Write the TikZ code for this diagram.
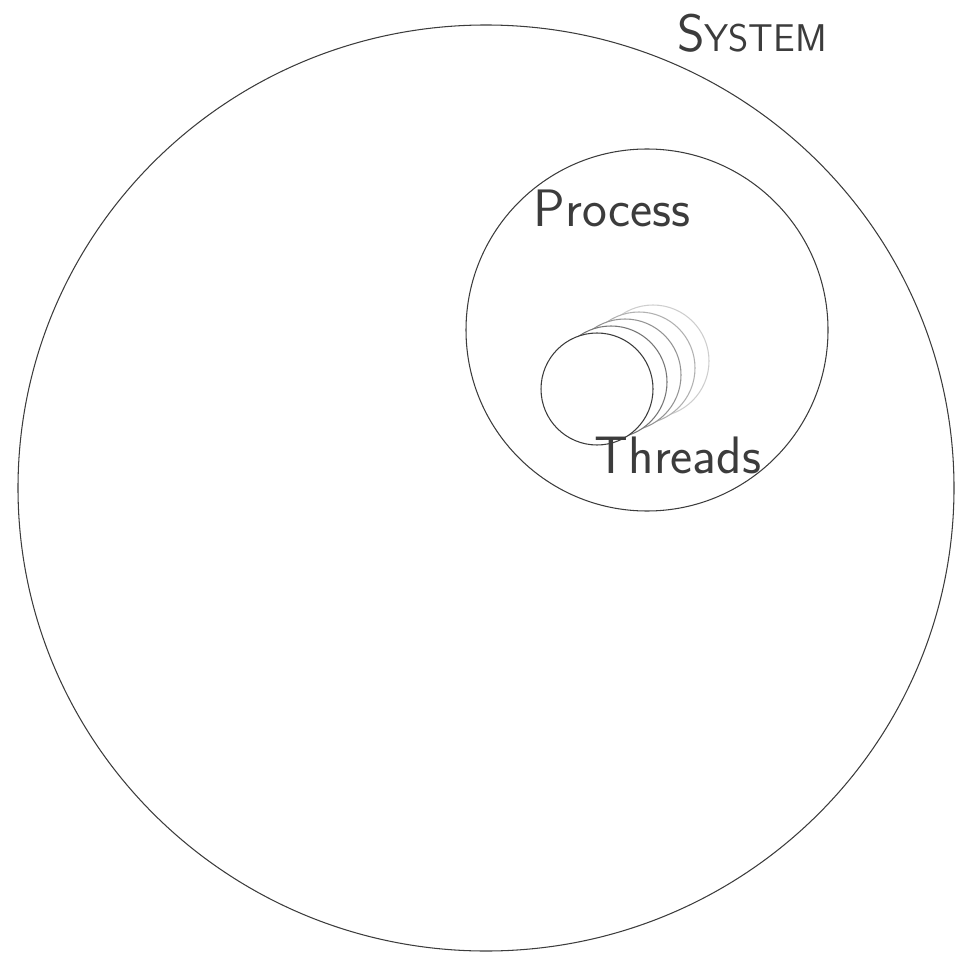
\documentclass[tikz,border=0pt]{standalone}
\usepackage{tikz}
\usetikzlibrary{positioning}
\definecolor{PencilGrey}{RGB}{60, 60, 60}

\begin{document}
\begin{tikzpicture}[x=0.02cm, y=-0.02cm,
		ring/.style={draw=PencilGrey, line width=0.6pt},
		lab/.style={text=PencilGrey, font=\sffamily\fontsize{30}{32}\selectfont, inner sep=0pt}]
	\useasboundingbox (0,0) rectangle (957,962);
	% system
	\draw[ring] (486,488) ellipse [x radius=468, y radius=463];
	\node[lab] (sys) at (752,33) {S{\fontsize{22}{24}\selectfont YSTEM}};
	% process
	\draw[ring] (647,330) circle [radius=181];
	\node[lab] (proc) at (612,208) {Process};
	% threads, back ones fainter
	\foreach \k/\shade in {4/25, 3/40, 2/55, 1/70}{
		\draw[ring, draw=PencilGrey!\shade, fill=white] (597+14*\k,389-7*\k) circle [radius=56];
	}
	\draw[ring, fill=white] (597,389) circle [radius=56];
	\node[lab] (thr) at (678,455) {Threads};
\end{tikzpicture}
\end{document}
